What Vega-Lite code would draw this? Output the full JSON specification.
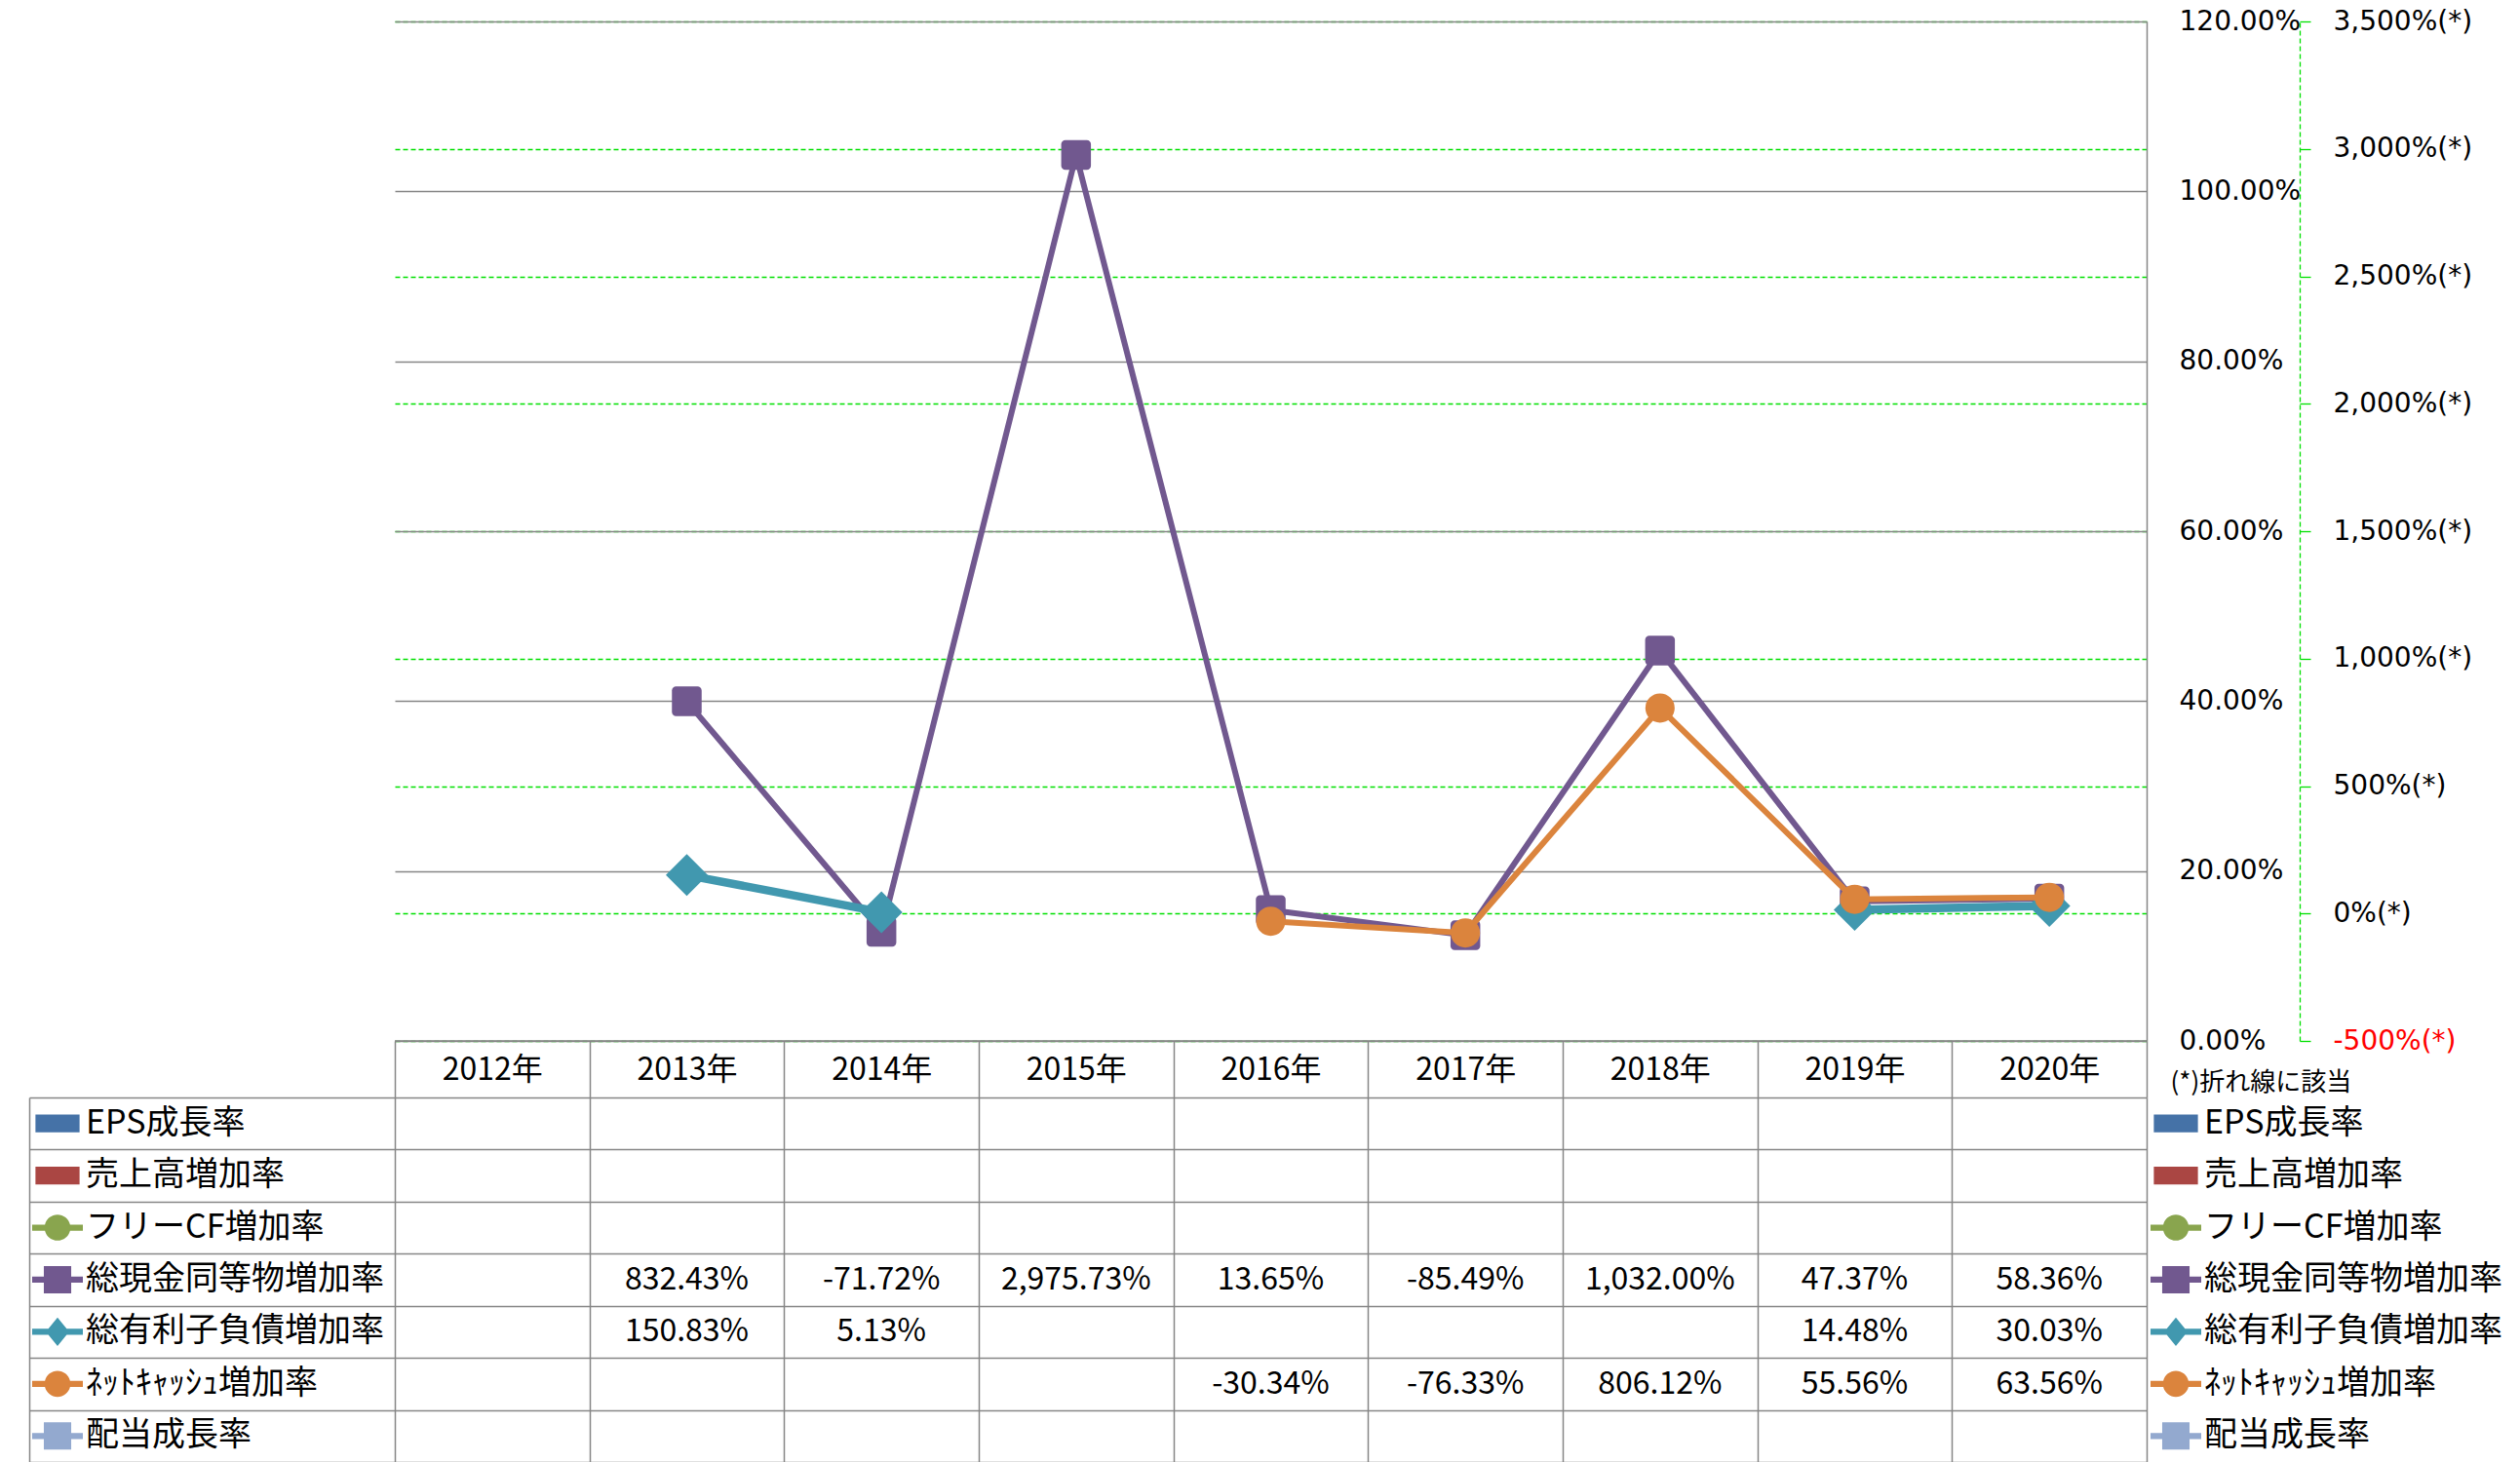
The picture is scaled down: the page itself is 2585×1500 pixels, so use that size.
{
  "$schema": "https://vega.github.io/schema/vega-lite/v6.json",
  "autosize": {"type": "none"},
  "padding": {"left": 30, "top": 22, "right": 2555, "bottom": 1478},
  "background": "white",
  "datasets": {
    "rates": [
      {"series": "総現金同等物増加率", "year": "2013年", "value": 8.3243},
      {"series": "総現金同等物増加率", "year": "2014年", "value": -0.7172},
      {"series": "総現金同等物増加率", "year": "2015年", "value": 29.7573},
      {"series": "総現金同等物増加率", "year": "2016年", "value": 0.1365},
      {"series": "総現金同等物増加率", "year": "2017年", "value": -0.8549},
      {"series": "総現金同等物増加率", "year": "2018年", "value": 10.32},
      {"series": "総現金同等物増加率", "year": "2019年", "value": 0.4737},
      {"series": "総現金同等物増加率", "year": "2020年", "value": 0.5836},
      {"series": "総有利子負債増加率", "year": "2013年", "value": 1.5083},
      {"series": "総有利子負債増加率", "year": "2014年", "value": 0.0513},
      {"series": "総有利子負債増加率", "year": "2015年", "value": null},
      {"series": "総有利子負債増加率", "year": "2016年", "value": null},
      {"series": "総有利子負債増加率", "year": "2017年", "value": null},
      {"series": "総有利子負債増加率", "year": "2018年", "value": null},
      {"series": "総有利子負債増加率", "year": "2019年", "value": 0.1448},
      {"series": "総有利子負債増加率", "year": "2020年", "value": 0.3003},
      {"series": "ﾈｯﾄｷｬｯｼｭ増加率", "year": "2016年", "value": -0.3034},
      {"series": "ﾈｯﾄｷｬｯｼｭ増加率", "year": "2017年", "value": -0.7633},
      {"series": "ﾈｯﾄｷｬｯｼｭ増加率", "year": "2018年", "value": 8.0612},
      {"series": "ﾈｯﾄｷｬｯｼｭ増加率", "year": "2019年", "value": 0.5556},
      {"series": "ﾈｯﾄｷｬｯｼｭ増加率", "year": "2020年", "value": 0.6356}
    ],
    "series": [
      {"series": "EPS成長率"},
      {"series": "売上高増加率"},
      {"series": "フリーCF増加率"},
      {"series": "総現金同等物増加率"},
      {"series": "総有利子負債増加率"},
      {"series": "ﾈｯﾄｷｬｯｼｭ増加率"},
      {"series": "配当成長率"}
    ]
  },
  "columns": 2,
  "spacing": {"row": 58, "column": 0},
  "bounds": "flush",
  "resolve": {
    "scale": {"color": "independent", "shape": "independent"},
    "legend": {"color": "independent", "shape": "independent"}
  },
  "concat": [
    {
      "width": 375,
      "height": 1046,
      "data": {"values": []},
      "mark": "point",
      "encoding": {}
    },
    {
      "width": 1797,
      "height": 1046,
      "resolve": {"scale": {"y": "independent"}, "axis": {"y": "independent"}},
      "layer": [
        {
          "data": {"name": "rates"},
          "encoding": {
            "x": {
              "field": "year", "type": "nominal", "bandPosition": 0.5, "sort": null,
              "scale": {"type": "band", "domain": ["2012年", "2013年", "2014年", "2015年", "2016年", "2017年", "2018年", "2019年", "2020年"], "paddingInner": 0, "paddingOuter": 0},
              "axis": {"orient": "bottom", "title": null, "domain": false, "grid": false, "ticks": true, "tickBand": "extent", "tickSize": 58, "tickColor": "#868686", "tickWidth": 1.5, "labelPadding": -29, "labelBaseline": "middle", "labelFont": "Noto Sans CJK JP", "labelFontSize": 32, "labelColor": "black", "labelAngle": 0}
            },
            "y": {
              "field": "value", "type": "quantitative",
              "scale": {"domain": [-5, 35], "nice": false, "zero": false},
              "axis": {
                "orient": "right", "offset": 157,
                "values": [-5, 0, 5, 10, 15, 20, 25, 30, 35],
                "grid": true, "gridColor": "#00E000", "gridDash": [5, 3], "gridWidth": 1.3,
                "domain": true, "domainColor": "#00E000", "domainDash": [5, 3], "domainWidth": 1.3,
                "ticks": true, "tickColor": "#00E000", "tickSize": 11, "tickWidth": 1.3,
                "labelPadding": 23, "labelFont": "DejaVu Sans", "labelFontSize": 28,
                "labelAlign": "left", "labelBaseline": "middle", "labelFlush": false, "labelOverlap": false,
                "labelExpr": "format(datum.value, ',.0%') + '(*)'",
                "labelColor": {"condition": {"test": "datum.value < 0", "value": "#FF0000"}, "value": "black"},
                "title": "(*)折れ線に該当", "titleAngle": 0, "titleX": -133, "titleY": 1088,
                "titleAlign": "left", "titleBaseline": "middle", "titleFont": "Noto Sans CJK JP",
                "titleFontSize": 26, "titleFontWeight": "normal", "titleColor": "black"
              }
            }
          },
          "layer": [
            {
              "transform": [{"filter": "datum.series == '総現金同等物増加率'"}],
              "mark": {"type": "line", "color": "#71588F", "strokeWidth": 6, "strokeJoin": "round"}
            },
            {
              "transform": [{"filter": "datum.series == '総現金同等物増加率'"}],
              "mark": {"type": "point", "shape": "M-0.72,-1H0.72A0.28 0.28 0 0 1 1,-0.72V0.72A0.28 0.28 0 0 1 0.72,1H-0.72A0.28 0.28 0 0 1 -1,0.72V-0.72A0.28 0.28 0 0 1 -0.72,-1Z", "size": 930, "filled": true, "opacity": 1, "color": "#71588F", "strokeWidth": 0}
            },
            {
              "transform": [{"filter": "datum.series == '総有利子負債増加率'"}],
              "mark": {"type": "line", "color": "#4198AF", "strokeWidth": 8.5, "strokeJoin": "round", "invalid": "break-paths-filter-domains"}
            },
            {
              "transform": [{"filter": "datum.series == '総有利子負債増加率' && datum.value != null"}],
              "mark": {"type": "point", "shape": "diamond", "size": 1850, "filled": true, "opacity": 1, "color": "#4198AF", "strokeWidth": 0}
            },
            {
              "transform": [{"filter": "datum.series == 'ﾈｯﾄｷｬｯｼｭ増加率'"}],
              "mark": {"type": "line", "color": "#DB843D", "strokeWidth": 6, "strokeJoin": "round"}
            },
            {
              "transform": [{"filter": "datum.series == 'ﾈｯﾄｷｬｯｼｭ増加率'"}],
              "mark": {"type": "point", "shape": "circle", "size": 900, "filled": true, "opacity": 1, "color": "#DB843D", "strokeWidth": 0}
            }
          ]
        },
        {
          "data": {"values": [{}]},
          "mark": {"type": "rule", "color": "#868686", "strokeWidth": 1.5},
          "encoding": {
            "y": {
              "datum": 0,
              "type": "quantitative",
              "scale": {"domain": [0, 1.2], "nice": false, "zero": false},
              "axis": {
                "orient": "right",
                "values": [0, 0.2, 0.4, 0.6, 0.8, 1.0, 1.2],
                "format": ".2%",
                "grid": true,
                "gridColor": "#868686",
                "gridWidth": 1.5,
                "domain": true,
                "domainColor": "#868686",
                "domainWidth": 1.5,
                "ticks": false,
                "tickSize": 0,
                "labelPadding": 33,
                "labelFont": "DejaVu Sans",
                "labelFontSize": 28,
                "labelColor": "black",
                "labelAlign": "left",
                "labelBaseline": "middle",
                "labelFlush": false,
                "labelOverlap": false,
                "title": null
              }
            }
          }
        }
      ]
    },
    {
      "width": 375,
      "height": 374,
      "data": {"name": "series"},
      "mark": {"type": "point", "filled": true, "opacity": 0},
      "encoding": {
        "y": {
          "field": "series", "type": "nominal", "sort": null,
          "scale": {"type": "band", "domain": ["EPS成長率", "売上高増加率", "フリーCF増加率", "総現金同等物増加率", "総有利子負債増加率", "ﾈｯﾄｷｬｯｼｭ増加率", "配当成長率"], "paddingInner": 0, "paddingOuter": 0},
          "axis": {"orient": "left", "grid": true, "tickBand": "extent", "gridColor": "#868686", "gridWidth": 1.5, "labels": false, "ticks": false, "domain": true, "domainColor": "#868686", "domainWidth": 1.5, "title": null}
        },
        "color": {
          "field": "series", "type": "nominal",
          "scale": {"domain": ["EPS成長率", "売上高増加率", "フリーCF増加率", "総現金同等物増加率", "総有利子負債増加率", "ﾈｯﾄｷｬｯｼｭ増加率", "配当成長率"], "range": ["#4572A7", "#AA4643", "#89A54E", "#71588F", "#4198AF", "#DB843D", "#93A9CF"]},
          "legend": {"orient": "none", "legendX": 3, "legendY": 9.7, "title": null, "direction": "vertical", "symbolSize": 2704, "symbolStrokeWidth": 0, "symbolOpacity": 1, "labelFont": "Noto Sans CJK JP", "labelFontSize": 34, "labelColor": "black", "labelOffset": 3, "rowPadding": 19.43, "clipHeight": 34, "padding": 0, "labelLimit": 0}
        },
        "shape": {
          "field": "series", "type": "nominal",
          "scale": {"domain": ["EPS成長率", "売上高増加率", "フリーCF増加率", "総現金同等物増加率", "総有利子負債増加率", "ﾈｯﾄｷｬｯｼｭ増加率", "配当成長率"], "range": ["M-0.87,-0.35H0.87V0.35H-0.87Z", "M-0.87,-0.35H0.87V0.35H-0.87Z", "M-1,-0.12H-0.496A0.51 0.51 0 0 1 0.496,-0.12H1V0.12H0.496A0.51 0.51 0 0 1 -0.496,0.12H-1Z", "M-1,-0.12H-0.54V-0.54H0.54V-0.12H1V0.12H0.54V0.54H-0.54V0.12H-1Z", "M-1,-0.12H-0.361L0,-0.56L0.361,-0.12H1V0.12H0.361L0,0.56L-0.361,0.12H-1Z", "M-1,-0.12H-0.496A0.51 0.51 0 0 1 0.496,-0.12H1V0.12H0.496A0.51 0.51 0 0 1 -0.496,0.12H-1Z", "M-1,-0.12H-0.54V-0.54H0.54V-0.12H1V0.12H0.54V0.54H-0.54V0.12H-1Z"]},
          "legend": {"orient": "none", "legendX": 3, "legendY": 9.7, "title": null, "direction": "vertical", "symbolSize": 2704, "symbolStrokeWidth": 0, "symbolOpacity": 1, "labelFont": "Noto Sans CJK JP", "labelFontSize": 34, "labelColor": "black", "labelOffset": 3, "rowPadding": 19.43, "clipHeight": 34, "padding": 0, "labelLimit": 0}
        }
      }
    },
    {
      "width": 1797,
      "height": 374,
      "layer": [
        {
          "data": {"name": "rates"},
          "transform": [{"filter": "datum.value != null"}],
          "mark": {"type": "text", "font": "Noto Sans CJK JP", "fontSize": 32, "color": "black", "align": "center", "baseline": "middle"},
          "encoding": {
            "x": {
              "field": "year", "type": "nominal", "sort": null,
              "scale": {"type": "band", "domain": ["2012年", "2013年", "2014年", "2015年", "2016年", "2017年", "2018年", "2019年", "2020年"], "paddingInner": 0, "paddingOuter": 0},
              "axis": {"orient": "bottom", "grid": true, "tickBand": "extent", "gridColor": "#868686", "gridWidth": 1.5, "labels": false, "ticks": false, "domain": false, "title": null}
            },
            "y": {
              "field": "series", "type": "nominal", "sort": null,
              "scale": {"type": "band", "domain": ["EPS成長率", "売上高増加率", "フリーCF増加率", "総現金同等物増加率", "総有利子負債増加率", "ﾈｯﾄｷｬｯｼｭ増加率", "配当成長率"], "paddingInner": 0, "paddingOuter": 0},
              "axis": {"orient": "left", "grid": true, "tickBand": "extent", "gridColor": "#868686", "gridWidth": 1.5, "labels": false, "ticks": false, "domain": false, "title": null}
            },
            "text": {"field": "value", "type": "quantitative", "format": ",.2%"}
          }
        },
        {
          "data": {"name": "series"},
          "mark": {"type": "point", "filled": true, "opacity": 0},
          "encoding": {
            "y": {
              "field": "series", "type": "nominal", "sort": null,
              "scale": {"type": "band", "domain": ["EPS成長率", "売上高増加率", "フリーCF増加率", "総現金同等物増加率", "総有利子負債増加率", "ﾈｯﾄｷｬｯｼｭ増加率", "配当成長率"], "paddingInner": 0, "paddingOuter": 0},
              "axis": {"orient": "left", "grid": true, "tickBand": "extent", "gridColor": "#868686", "gridWidth": 1.5, "labels": false, "ticks": false, "domain": false, "title": null}
            },
            "color": {
              "field": "series", "type": "nominal",
              "scale": {"domain": ["EPS成長率", "売上高増加率", "フリーCF増加率", "総現金同等物増加率", "総有利子負債増加率", "ﾈｯﾄｷｬｯｼｭ増加率", "配当成長率"], "range": ["#4572A7", "#AA4643", "#89A54E", "#71588F", "#4198AF", "#DB843D", "#93A9CF"]},
              "legend": {"orient": "none", "legendX": 1801, "legendY": 9.7, "title": null, "direction": "vertical", "symbolSize": 2704, "symbolStrokeWidth": 0, "symbolOpacity": 1, "labelFont": "Noto Sans CJK JP", "labelFontSize": 34, "labelColor": "black", "labelOffset": 3, "rowPadding": 19.43, "clipHeight": 34, "padding": 0, "labelLimit": 0}
            },
            "shape": {
              "field": "series", "type": "nominal",
              "scale": {"domain": ["EPS成長率", "売上高増加率", "フリーCF増加率", "総現金同等物増加率", "総有利子負債増加率", "ﾈｯﾄｷｬｯｼｭ増加率", "配当成長率"], "range": ["M-0.87,-0.35H0.87V0.35H-0.87Z", "M-0.87,-0.35H0.87V0.35H-0.87Z", "M-1,-0.12H-0.496A0.51 0.51 0 0 1 0.496,-0.12H1V0.12H0.496A0.51 0.51 0 0 1 -0.496,0.12H-1Z", "M-1,-0.12H-0.54V-0.54H0.54V-0.12H1V0.12H0.54V0.54H-0.54V0.12H-1Z", "M-1,-0.12H-0.361L0,-0.56L0.361,-0.12H1V0.12H0.361L0,0.56L-0.361,0.12H-1Z", "M-1,-0.12H-0.496A0.51 0.51 0 0 1 0.496,-0.12H1V0.12H0.496A0.51 0.51 0 0 1 -0.496,0.12H-1Z", "M-1,-0.12H-0.54V-0.54H0.54V-0.12H1V0.12H0.54V0.54H-0.54V0.12H-1Z"]},
              "legend": {"orient": "none", "legendX": 1801, "legendY": 9.7, "title": null, "direction": "vertical", "symbolSize": 2704, "symbolStrokeWidth": 0, "symbolOpacity": 1, "labelFont": "Noto Sans CJK JP", "labelFontSize": 34, "labelColor": "black", "labelOffset": 3, "rowPadding": 19.43, "clipHeight": 34, "padding": 0, "labelLimit": 0}
            }
          }
        }
      ]
    }
  ],
  "config": {
    "view": {"stroke": null},
    "font": "Noto Sans CJK JP",
    "locale": {"number": {"decimal": ".", "thousands": ",", "grouping": [3], "currency": ["$", ""], "minus": "-"}}
  }
}
